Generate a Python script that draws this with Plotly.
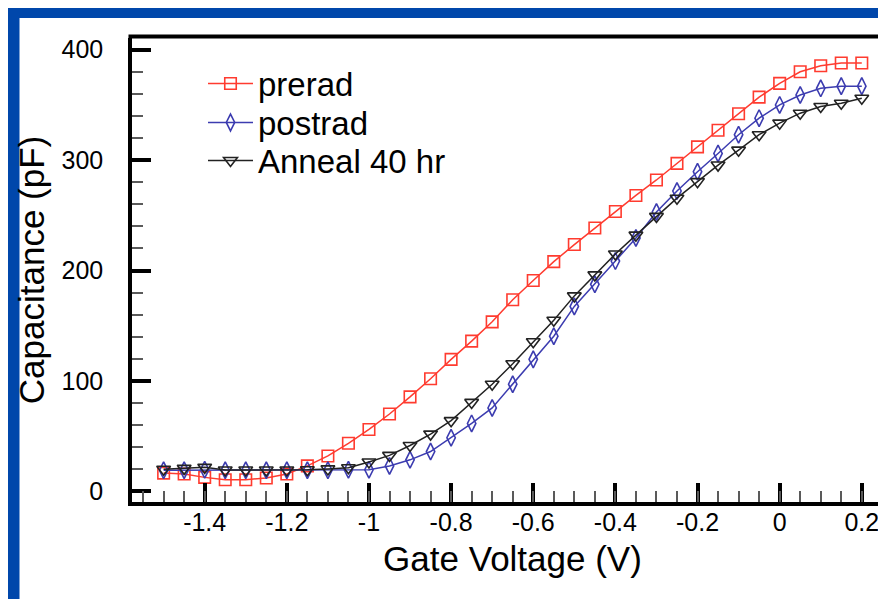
import plotly.graph_objects as go

# ---- data ----
voltage = [-1.5, -1.45, -1.4, -1.35, -1.3, -1.25, -1.2, -1.15, -1.1, -1.05,
           -1.0, -0.95, -0.9, -0.85, -0.8, -0.75, -0.7, -0.65, -0.6, -0.55,
           -0.5, -0.45, -0.4, -0.35, -0.3, -0.25, -0.2, -0.15, -0.1, -0.05,
           0.0, 0.05, 0.1, 0.15, 0.2]

prerad = [16.5, 15.6, 12.6, 10.5, 10.5, 12.0, 15.6, 23.0, 32.0, 43.5,
          56.0, 70.0, 85.5, 102.0, 119.5, 136.0, 153.5, 173.5, 191.0, 208.0,
          223.5, 238.5, 253.5, 268.0, 282.0, 297.0, 312.0, 327.0, 342.0, 357.0,
          369.5, 380.0, 385.5, 388.0, 388.0]

postrad = [19.0, 19.0, 19.5, 19.0, 19.0, 19.0, 19.0, 19.0, 19.0, 19.5,
           19.5, 23.0, 28.5, 36.0, 48.5, 61.5, 75.5, 97.0, 119.5, 140.5,
           167.5, 187.5, 208.5, 229.5, 253.0, 272.0, 289.5, 306.0, 323.0, 338.0,
           350.0, 359.0, 365.0, 367.0, 367.0]

anneal = [20.0, 20.8, 21.7, 19.3, 19.3, 19.3, 19.3, 19.5, 20.3, 21.3,
          26.5, 32.5, 41.5, 51.8, 64.0, 80.5, 97.0, 115.5, 135.5, 155.0,
          177.0, 196.0, 215.0, 232.0, 249.0, 265.5, 280.5, 295.5, 309.0, 323.0,
          333.5, 342.5, 348.5, 351.5, 356.0]

series_names = ["prerad", "postrad", "Anneal 40 hr"]

x_tickvals = [-1.4, -1.2, -1.0, -0.8, -0.6, -0.4, -0.2, 0.0, 0.2]
x_ticktext = ["-1.4", "-1.2", "-1", "-0.8", "-0.6", "-0.4", "-0.2", "0", "0.2"]

FONT = "Liberation Sans, Arial, Helvetica, sans-serif"
RED = "#ff3b2f"
BLUE = "#3c3cb0"
BLACK = "#222222"
SLIDE_BLUE = "#0047ab"
MINOR = "#5a5a5a"

X_RANGE = [-1.577, 0.276]

fig = go.Figure()

fig.add_trace(go.Scatter(
    x=voltage, y=prerad, name=series_names[0], mode="lines+markers",
    line=dict(color=RED, width=1.5),
    marker=dict(symbol="square-open", size=11.5, color=RED, line=dict(width=1.6, color=RED)),
    legend="legend", showlegend=True,
))
fig.add_trace(go.Scatter(
    x=voltage, y=postrad, name=series_names[1], mode="lines+markers",
    line=dict(color=BLUE, width=1.5),
    marker=dict(symbol="diamond-tall-open", size=12, color=BLUE, line=dict(width=1.6, color=BLUE)),
    legend="legend2", showlegend=True,
))
fig.add_trace(go.Scatter(
    x=voltage, y=anneal, name=series_names[2], mode="lines+markers",
    line=dict(color=BLACK, width=1.5),
    marker=dict(symbol="triangle-down-open", size=12, color=BLACK, line=dict(width=1.6, color=BLACK)),
    legend="legend3", showlegend=True,
))
# empty trace that only attaches the overlay axis carrying the minor x ticks
fig.add_trace(go.Scatter(x=[], y=[], xaxis="x2", yaxis="y", showlegend=False, hoverinfo="skip"))

L, R, T, B = 124, 1, 30, 105
W, H = 886, 599
plot_w = W - L - R
plot_h = H - T - B


def py(pix):
    return (H - B - pix) / plot_h


def px(pix):
    return (pix - L) / plot_w


leg_common = dict(
    x=px(195), xanchor="left", yanchor="middle",
    bgcolor="rgba(0,0,0,0)", borderwidth=0,
    font=dict(family=FONT, size=33, color="black"),
    itemwidth=45,
)

fig.update_layout(
    width=W, height=H,
    showlegend=True,
    margin=dict(l=L, r=R, t=T, b=B, pad=0),
    paper_bgcolor="white",
    plot_bgcolor="white",
    font=dict(family=FONT, color="black"),
    legend=dict(y=py(75.5), **leg_common),
    legend2=dict(y=py(114.5), **leg_common),
    legend3=dict(y=py(152.5), **leg_common),
    xaxis=dict(
        range=X_RANGE,
        tickmode="array", tickvals=x_tickvals, ticktext=x_ticktext,
        ticks="inside", ticklen=19, tickwidth=3.5, tickcolor="black",
        showline=True, linewidth=3.5, linecolor="black",
        showgrid=False, zeroline=False,
        tickfont=dict(family=FONT, size=25, color="black"),
        ticklabelstandoff=-5,
        title=dict(text="Gate Voltage (V)", font=dict(family=FONT, size=35, color="black"), standoff=13),
    ),
    xaxis2=dict(
        overlaying="x", side="bottom", anchor="y",
        range=X_RANGE,
        tickmode="linear", tick0=0, dtick=0.05,
        ticks="inside", ticklen=11, tickwidth=2, tickcolor=MINOR,
        showticklabels=False, showline=False, showgrid=False, zeroline=False,
    ),
    yaxis=dict(
        range=[-9.7, 410.6],
        tickmode="linear", tick0=0, dtick=100,
        ticks="inside", ticklen=19, tickwidth=3.5, tickcolor="black",
        minor=dict(ticks="inside", ticklen=11, tickwidth=2, tickcolor=MINOR,
                   dtick=20, showgrid=False),
        showline=True, linewidth=3.5, linecolor="black",
        showgrid=False, zeroline=False,
        tickfont=dict(family=FONT, size=25, color="black"),
        ticklabelstandoff=20,
        title=dict(text="Capacitance (pF)", font=dict(family=FONT, size=35, color="black"), standoff=7),
    ),
    shapes=[
        # blue slide background strips (left and top)
        dict(type="rect", xref="paper", yref="paper",
             x0=px(-5), x1=px(11.5), y0=py(620), y1=py(-5),
             fillcolor=SLIDE_BLUE, line=dict(width=0), layer="below"),
        dict(type="rect", xref="paper", yref="paper",
             x0=px(-5), x1=px(900), y0=py(10), y1=py(-5),
             fillcolor=SLIDE_BLUE, line=dict(width=0), layer="below"),
        # top frame line
        dict(type="line", xref="paper", yref="paper",
             x0=px(120.5), x1=1, y0=py(28.5), y1=py(28.5),
             line=dict(color="black", width=4), layer="above"),
        # right frame line
        dict(type="line", xref="paper", yref="paper",
             x0=px(884.5), x1=px(884.5), y0=py(496), y1=py(28.5),
             line=dict(color="#777777", width=1), layer="above"),
    ],
)

fig.write_html("out.html")
